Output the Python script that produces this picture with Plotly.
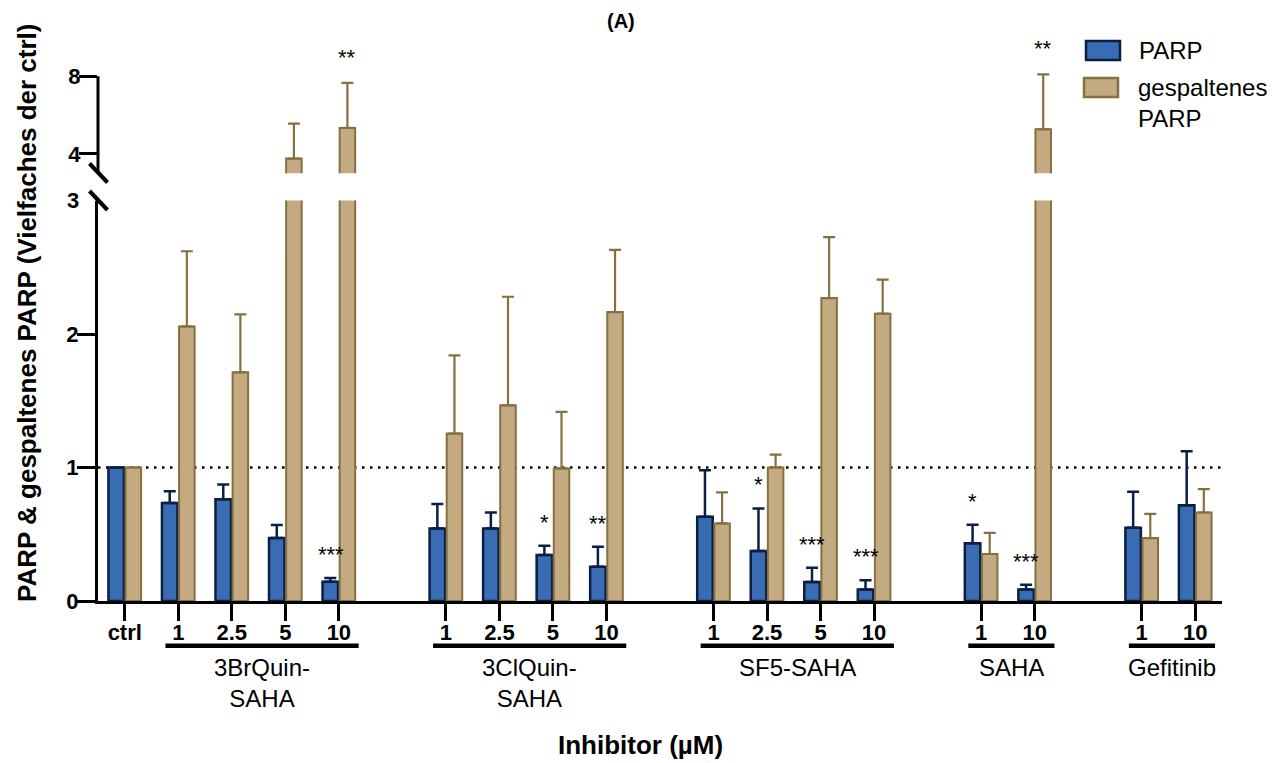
import plotly.graph_objects as go

# ---------------- data ----------------
groups = ["ctrl", "3BrQuin-<br>SAHA", "3ClQuin-<br>SAHA", "SF5-SAHA", "SAHA", "Gefitinib"]
doses = [["ctrl"], ["1", "2.5", "5", "10"], ["1", "2.5", "5", "10"],
         ["1", "2.5", "5", "10"], ["1", "10"], ["1", "10"]]

parp = [1.00, 0.735, 0.763, 0.471, 0.145,
        0.544, 0.544, 0.344, 0.257,
        0.631, 0.374, 0.142, 0.087,
        0.432, 0.087,
        0.548, 0.718]
parp_sem = [0.0, 0.088, 0.110, 0.098, 0.027,
            0.182, 0.119, 0.070, 0.149,
            0.349, 0.319, 0.107, 0.068,
            0.139, 0.035,
            0.270, 0.404]

cleaved = [1.00, 2.057, 1.713, 3.76, 5.34,
           1.254, 1.466, 0.993, 2.164,
           0.581, 1.000, 2.269, 2.152,
           0.352, 5.27,
           0.471, 0.663]
cleaved_sem = [0.0, 0.563, 0.434, 1.80, 2.32,
               0.586, 0.813, 0.423, 0.466,
               0.232, 0.097, 0.456, 0.256,
               0.159, 2.83,
               0.182, 0.175]

stars_parp = ["", "", "", "", "***",
              "", "", "*", "**",
              "", "*", "***", "***",
              "*", "***",
              "", ""]
stars_cleaved = ["", "", "", "", "**",
                 "", "", "", "",
                 "", "", "", "",
                 "", "**",
                 "", ""]

series_names = ["PARP", "gespaltenes<br>PARP"]

# ---------------- styling ----------------
FONT = "Arial, 'Liberation Sans', sans-serif"
BLUE, BLUE_LINE = "#3a6cb4", "#0b1f45"
TAN, TAN_LINE = "#c4aa80", "#85703f"
BREAK_LO, BREAK_HI, TOP = 3, 3, 8

OFF = 8                      # page body margin
W, H = 1285 - OFF, 763 - OFF
# plot area in page pixels
PL, PR, PT, PB = 98, 1222, 66, 601
ML, MR, MT, MB = PL - OFF, OFF + W - PR, PT - OFF, OFF + H - PB
PW, PH = PR - PL, PB - PT

Y8_PX, Y3_PX = 76.3, 173.3   # upper segment: value 8 and value 3 (page px)
UNIT_HI = (Y3_PX - Y8_PX) / (TOP - BREAK_HI)
TOP_RANGE = TOP + (Y8_PX - PT) / UNIT_HI


def px_x(px):
    return (px - PL) / PW


def px_y(py):
    return (PB - py) / PH


# x positions (one empty slot between the drug groups)
xpos, ticktext, spans = [], [], []
pos = 0
for gi, ds in enumerate(doses):
    if gi >= 2:
        pos += 1
    start = pos
    for d in ds:
        xpos.append(pos)
        ticktext.append(f"<b>{d}</b>")
        pos += 1
    spans.append((start, pos - 1))

BW = 0.29
fig = go.Figure()

# lower segment
fig.add_trace(go.Bar(
    x=xpos, y=parp, width=BW, offset=-0.305, xaxis="x", yaxis="y",
    marker=dict(color=BLUE, line=dict(color=BLUE_LINE, width=2.5)),
    error_y=dict(type="data", symmetric=False, array=parp_sem,
                 arrayminus=[0] * len(parp), color=BLUE_LINE, thickness=2.5, width=6),
    showlegend=False))
low_err = [e if v + e <= BREAK_LO else float("nan") for v, e in zip(cleaved, cleaved_sem)]
fig.add_trace(go.Bar(
    x=xpos, y=cleaved, width=BW, offset=0.015, xaxis="x", yaxis="y",
    marker=dict(color=TAN, line=dict(color=TAN_LINE, width=2)),
    error_y=dict(type="data", symmetric=False, array=low_err,
                 arrayminus=[0] * len(cleaved), color=TAN_LINE, thickness=2.2, width=6),
    showlegend=False))
# upper segment (only the tall bars)
hi_vals = [v if v > BREAK_LO else None for v in cleaved]
hi_err = [e if v > BREAK_LO else 0 for v, e in zip(cleaved, cleaved_sem)]
fig.add_trace(go.Bar(
    x=xpos, y=hi_vals, width=BW, offset=0.015, xaxis="x", yaxis="y2",
    marker=dict(color=TAN, line=dict(color=TAN_LINE, width=2)),
    error_y=dict(type="data", symmetric=False, array=hi_err,
                 arrayminus=[0] * len(cleaved), color=TAN_LINE, thickness=2.2, width=6),
    showlegend=False))

low_top = px_y(200.5)
high_bot = px_y(Y3_PX)

axis_common = dict(showgrid=False, zeroline=False, showline=True, linecolor="black",
                   linewidth=3, ticks="outside", tickwidth=3, tickcolor="black",
                   tickfont=dict(family=FONT, size=22, color="black"))

fig.update_layout(
    width=W, height=H,
    margin=dict(l=ML, r=MR, t=MT, b=MB, pad=0),
    plot_bgcolor="white", paper_bgcolor="white",
    barmode="overlay",
    font=dict(family=FONT, color="black"),
    xaxis=dict(axis_common, range=[-0.5, 20.5], tickvals=xpos, ticktext=ticktext,
               ticklen=17, ticklabelstandoff=-7, anchor="y"),
    yaxis=dict(axis_common, domain=[0, low_top], range=[0, BREAK_LO],
               tickvals=[0, 1, 2], ticktext=["<b>0</b>", "<b>1</b>", "<b>2</b>"],
               ticklen=18, ticklabelstandoff=-6, anchor="x"),
    yaxis2=dict(axis_common, domain=[high_bot, 1], range=[BREAK_HI, TOP_RANGE],
                showline=False,
                tickvals=[4, 8], ticktext=["<b>4</b>", "<b>8</b>"],
                ticklen=18, ticklabelstandoff=-6, anchor="x"),
)

shapes = []
# reference line at 1
shapes.append(dict(type="line", xref="paper", yref="y", x0=0, x1=1, y0=1, y1=1,
                   line=dict(color="black", width=2.5, dash="2.5px,5.5px"), layer="below"))
# upper axis line (ends at the 8 tick)
shapes.append(dict(type="line", xref="paper", yref="y2", x0=0, x1=0, y0=BREAK_HI, y1=TOP,
                   line=dict(color="black", width=3)))
# axis break marks
for (x0, y0, x1, y1) in [(89.5, 163.5, 107.5, 182.5), (89.5, 191.0, 107.5, 210.0)]:
    shapes.append(dict(type="line", xref="paper", yref="paper",
                       x0=px_x(x0), y0=px_y(y0), x1=px_x(x1), y1=px_y(y1),
                       line=dict(color="black", width=4)))
# group underline bars
for gi, (s, e) in enumerate(spans):
    if gi == 0:
        continue
    shapes.append(dict(type="line", xref="x", yref="paper",
                       x0=s - 0.24, x1=e + 0.37, y0=px_y(645.7), y1=px_y(645.7),
                       line=dict(color="black", width=4.5)))
# legend swatches
shapes.append(dict(type="rect", xref="paper", yref="paper",
                   x0=px_x(1086), x1=px_x(1120), y0=px_y(60), y1=px_y(41),
                   fillcolor=BLUE, line=dict(color=BLUE_LINE, width=2.5)))
shapes.append(dict(type="rect", xref="paper", yref="paper",
                   x0=px_x(1084), x1=px_x(1118), y0=px_y(97), y1=px_y(78),
                   fillcolor=TAN, line=dict(color=TAN_LINE, width=2.5)))

annotations = []
# group names
for gi, (s, e) in enumerate(spans):
    if gi == 0:
        continue
    annotations.append(dict(x=(s + e) / 2 + 0.065, y=px_y(652), xref="x", yref="paper",
                            text=groups[gi], showarrow=False, xanchor="center", yanchor="top",
                            font=dict(family=FONT, size=24, color="black")))
# "3" label at the break
annotations.append(dict(x=px_x(81), y=px_y(200), xref="paper", yref="paper", text="<b>3</b>",
                        showarrow=False, xanchor="right", yanchor="middle",
                        font=dict(family=FONT, size=22, color="black")))
# significance stars
for i, x in enumerate(xpos):
    if stars_parp[i]:
        annotations.append(dict(x=x - 0.155, y=parp[i] + parp_sem[i], xref="x", yref="y",
                                text=stars_parp[i], showarrow=False, xanchor="center",
                                yanchor="bottom", yshift=9,
                                font=dict(family=FONT, size=22, color="black")))
    if stars_cleaved[i]:
        top = cleaved[i] + cleaved_sem[i]
        annotations.append(dict(x=x + 0.16, y=top, xref="x",
                                yref="y2" if cleaved[i] > BREAK_LO else "y",
                                text=stars_cleaved[i], showarrow=False, xanchor="center",
                                yanchor="bottom", yshift=11,
                                font=dict(family=FONT, size=22, color="black")))
# legend text
annotations.append(dict(x=px_x(1137), y=px_y(50), xref="paper", yref="paper", text=series_names[0],
                        showarrow=False, xanchor="left", yanchor="middle", align="left",
                        font=dict(family=FONT, size=24, color="black")))
annotations.append(dict(x=px_x(1136), y=px_y(103), xref="paper", yref="paper", text=series_names[1],
                        showarrow=False, xanchor="left", yanchor="middle", align="left",
                        font=dict(family=FONT, size=24, color="black")))
# axis titles
annotations.append(dict(x=px_x(27), y=px_y(313), xref="paper", yref="paper",
                        text="<b>PARP &amp; gespaltenes PARP (Vielfaches der ctrl)</b>",
                        textangle=-90, showarrow=False, xanchor="center", yanchor="middle",
                        font=dict(family=FONT, size=26, color="black")))
annotations.append(dict(x=px_x(640), y=px_y(745), xref="paper", yref="paper",
                        text="<b>Inhibitor (µM)</b>", showarrow=False,
                        xanchor="center", yanchor="middle",
                        font=dict(family=FONT, size=26, color="black")))
# panel letter
annotations.append(dict(x=px_x(621), y=px_y(OFF), xref="paper", yref="paper",
                        text="<b>(A)</b>", showarrow=False, xanchor="center", yanchor="top",
                        font=dict(family=FONT, size=20, color="black")))

fig.update_layout(shapes=shapes, annotations=annotations)
fig.write_html("out.html")
